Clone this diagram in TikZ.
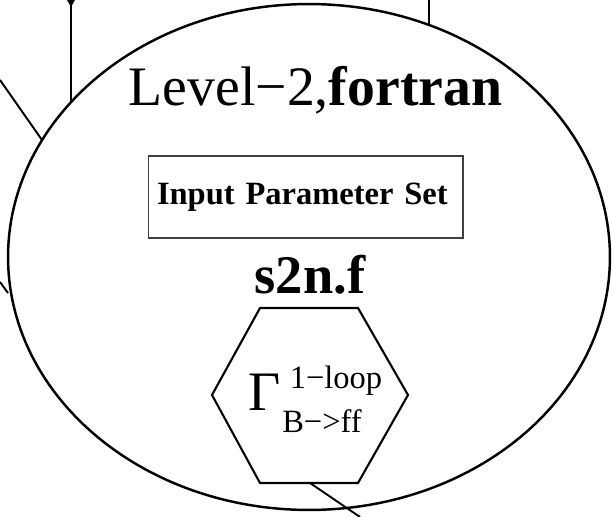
\documentclass[tikz,border=0pt]{standalone}
\usepackage{fontspec}
\setmainfont{Liberation Serif}
\usetikzlibrary{shapes.geometric}

\begin{document}
\begin{tikzpicture}[
    x=0.02cm, y=-0.02cm,
    every node/.style={inner sep=0pt},
    wire/.style={line width=1.1pt},
    bigtxt/.style={font=\fontsize{31.7}{36}\selectfont},
    smalltxt/.style={font=\fontsize{18.5}{22}\selectfont}
]
\useasboundingbox (0,0) rectangle (612,517);

% === Level-2 module (ellipse) ===
\node[ellipse, draw, line width=1.4pt, minimum width=12.04cm, minimum height=10.12cm] (level2) at (309,257) {};
\node[bigtxt, anchor=base] (title) at (315.5,106) {Level−2,\textbf{fortran}};

% Parameter box
\node[draw=black!75, line width=0.6pt, minimum width=6.3cm, minimum height=1.64cm,
      text width=5.94cm, inner xsep=0.18cm, align=left,
      font=\fontsize{18.5}{22}\selectfont\bfseries] (params) at (305.5,197) {Input Parameter Set};

% Program name
\node[font=\fontsize{31}{36}\selectfont\bfseries, anchor=base] (prog) at (310,293) {s2n.f};

% === Width hexagon ===
\coordinate (hexbot) at (310,483);
\draw[line width=1.2pt] (260,308) -- (358,308) -- (408,395) -- (358,483) -- (260,483) -- (212,395) -- cycle;
\node[bigtxt, anchor=base] (gam) at (264.5,410) {Γ};
\node[smalltxt, anchor=base] (sup) at (336,388) {1−loop};
\node[smalltxt, anchor=base] (sub) at (322,432) {B−>ff};

% === Connectors ===
\coordinate (top1) at (71,0);
\coordinate (rim1) at (71,103);
\coordinate (top2) at (429,0);
\coordinate (rim2) at (429,24);
\coordinate (left1) at (0,80);
\coordinate (rim3) at (42,140);
\coordinate (left2) at (0,282);
\coordinate (rim4) at (8,293);
\coordinate (bot1) at (360,517);

\draw[wire] (top1) -- (rim1);
\fill (67,0) -- (75,0) -- (71,7) -- cycle;
\draw[wire] (top2) -- (rim2);
\draw[wire] (left1) -- (rim3);
\draw[wire] (left2) -- (rim4);
\draw[wire] (hexbot) -- (bot1);

\end{tikzpicture}
\end{document}
